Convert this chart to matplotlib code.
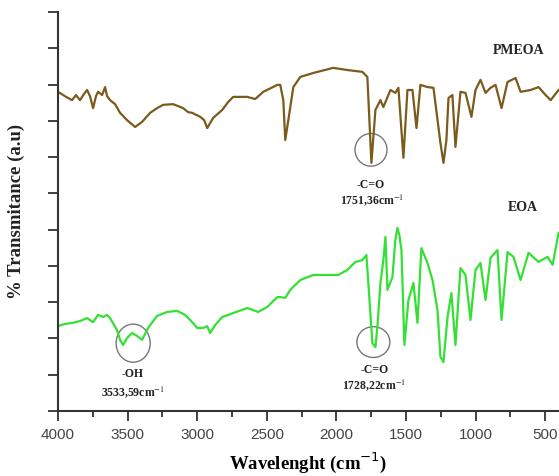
import matplotlib
matplotlib.use('Agg')
import matplotlib.pyplot as plt
from matplotlib.patches import Ellipse

# PMEOA spectrum (wavenumber cm-1, transmittance a.u.)
pmeoa_wn = [4000, 3942, 3899, 3871, 3842, 3813, 3791, 3770, 3748, 3727, 3712, 3683,
            3662, 3647, 3626, 3590, 3554, 3504, 3446, 3396, 3338, 3288, 3245, 3173,
            3101, 3065, 3036, 2978, 2950, 2928, 2885, 2820, 2777, 2741, 2640, 2583,
            2525, 2424, 2403, 2381, 2367, 2345, 2309, 2259, 2165, 2022, 1921, 1813,
            1777, 1748, 1719, 1683, 1662, 1611, 1576, 1554, 1518, 1489, 1453, 1424,
            1396, 1345, 1302, 1252, 1230, 1209, 1194, 1166, 1144, 1108, 1072, 1029,
            1000, 964, 928, 892, 856, 813, 770, 712, 676, 604, 547, 496, 460, 403]
pmeoa_t = [8.80, 8.66, 8.57, 8.71, 8.57, 8.74, 8.85, 8.68, 8.35, 8.68, 8.80, 8.71,
           8.93, 8.68, 8.57, 8.46, 8.22, 8.02, 7.83, 7.97, 8.22, 8.35, 8.44, 8.46,
           8.35, 8.24, 8.22, 8.11, 8.02, 7.80, 8.08, 8.30, 8.52, 8.66, 8.66, 8.60,
           8.80, 8.99, 8.99, 8.57, 7.47, 8.02, 8.93, 9.21, 9.32, 9.46, 9.40, 9.35,
           9.21, 6.84, 8.30, 8.57, 8.38, 8.85, 8.77, 8.91, 6.98, 8.85, 8.85, 7.80,
           8.99, 8.93, 8.91, 7.39, 6.84, 7.47, 8.63, 8.71, 7.28, 8.80, 8.77, 8.11,
           8.85, 9.13, 8.77, 8.91, 8.99, 8.35, 9.07, 9.18, 8.80, 8.85, 8.93, 8.71, 8.57, 8.85]

# EOA spectrum
eoa_wn = [4000, 3950, 3892, 3842, 3791, 3748, 3712, 3676, 3647, 3626, 3576, 3554,
          3532, 3504, 3468, 3432, 3396, 3353, 3288, 3216, 3144, 3086, 3036, 3000,
          2957, 2928, 2907, 2871, 2820, 2741, 2640, 2561, 2496, 2424, 2403, 2367,
          2331, 2259, 2165, 1986, 1921, 1863, 1813, 1784, 1770, 1741, 1719, 1705,
          1683, 1662, 1647, 1633, 1597, 1576, 1561, 1547, 1532, 1511, 1482, 1446,
          1417, 1389, 1345, 1309, 1273, 1252, 1230, 1201, 1173, 1144, 1108, 1072,
          1036, 1000, 964, 928, 892, 842, 813, 770, 727, 676, 619, 547, 482, 446, 403]
eoa_t = [2.34, 2.40, 2.43, 2.48, 2.56, 2.45, 2.65, 2.59, 2.65, 2.56, 2.23, 1.96,
         1.82, 2.01, 2.15, 2.07, 1.96, 2.29, 2.62, 2.73, 2.76, 2.65, 2.45, 2.29,
         2.29, 2.34, 2.15, 2.37, 2.59, 2.70, 2.84, 2.73, 2.87, 3.14, 3.14, 3.12,
         3.34, 3.61, 3.75, 3.75, 3.89, 4.11, 4.16, 4.30, 3.53, 1.87, 1.76, 2.32,
         3.53, 4.16, 4.80, 3.34, 3.69, 4.71, 5.05, 4.85, 4.44, 1.82, 3.06, 3.53,
         2.43, 4.49, 4.08, 3.61, 2.78, 1.49, 1.35, 2.59, 3.25, 1.82, 3.94, 3.75,
         2.51, 3.89, 4.08, 3.06, 4.22, 4.44, 2.51, 4.38, 4.25, 3.61, 4.36, 4.11, 4.25, 4.03, 4.91]

xticks = [4000, 3500, 3000, 2500, 2000, 1500, 1000, 500]

fig = plt.figure(figsize=(5.59, 4.76), dpi=100)
ax = fig.add_axes([58 / 559, 65 / 476, 501 / 559, 399 / 476])

ax.plot(pmeoa_wn, pmeoa_t, color='#7a5b1c', lw=1.6)
ax.plot(eoa_wn, eoa_t, color='#33e033', lw=1.6)

ax.set_xlim(4000, 400)
ax.set_ylim(0, 11)

for s in ['top', 'right']:
    ax.spines[s].set_visible(False)
for s in ['left', 'bottom']:
    ax.spines[s].set_color('#333333')
    ax.spines[s].set_linewidth(1.5)

ax.set_xticks(xticks)
ax.set_xticks([3750, 3250, 2750, 2250, 1750, 1250, 750], minor=True)
ax.set_yticks(range(0, 12))
ax.set_yticklabels([])
ax.tick_params(axis='x', which='major', direction='out', length=7, width=1.3,
               color='#333333', labelsize=11, labelcolor='#444444', pad=5)
ax.tick_params(axis='x', which='minor', direction='out', length=4, width=1.3, color='#333333')
ax.tick_params(axis='y', direction='out', length=7, width=1.3, color='#333333')
for lab in ax.get_xticklabels():
    lab.set_family('Liberation Sans')

serif = 'Liberation Serif'
plt.rcParams['mathtext.fontset'] = 'stix'

ax.set_xlabel('Wavelenght (cm$^{-1}$)', fontsize=13.5, fontweight='bold',
              family=serif, labelpad=6)
ax.set_ylabel('% Transmitance (a.u)', fontsize=13.5, fontweight='bold',
              family=serif, labelpad=13, color='#222222')

# circles around peaks
ax.add_patch(Ellipse((1751, 7.20), 230, 0.90, fill=False, ec='#777777', lw=1.0))
ax.add_patch(Ellipse((1734, 1.90), 237, 0.85, fill=False, ec='#777777', lw=1.0))
ax.add_patch(Ellipse((3460, 1.87), 245, 1.05, fill=False, ec='#777777', lw=1.0))

tk = dict(family=serif, fontweight='bold', fontsize=8.5, ha='center', va='center', color='#222222')
ax.text(1755, 6.23, '-C=O', **tk)
ax.text(1745, 5.82, '1751,36cm$^{-1}$', **tk)
ax.text(1727, 1.13, '-C=O', **tk)
ax.text(1727, 0.72, '1728,22cm$^{-1}$', **tk)
ax.text(3460, 1.02, '-OH', **tk)
ax.text(3460, 0.52, '3533,59cm$^{-1}$', **tk)

ax.text(691, 9.95, 'PMEOA', family=serif, fontweight='bold', fontsize=10,
        ha='center', va='center', color='#222222')
ax.text(662, 5.60, 'EOA', family=serif, fontweight='bold', fontsize=10,
        ha='center', va='center', color='#222222')

plt.savefig('out.png', dpi=100)
plt.close()
